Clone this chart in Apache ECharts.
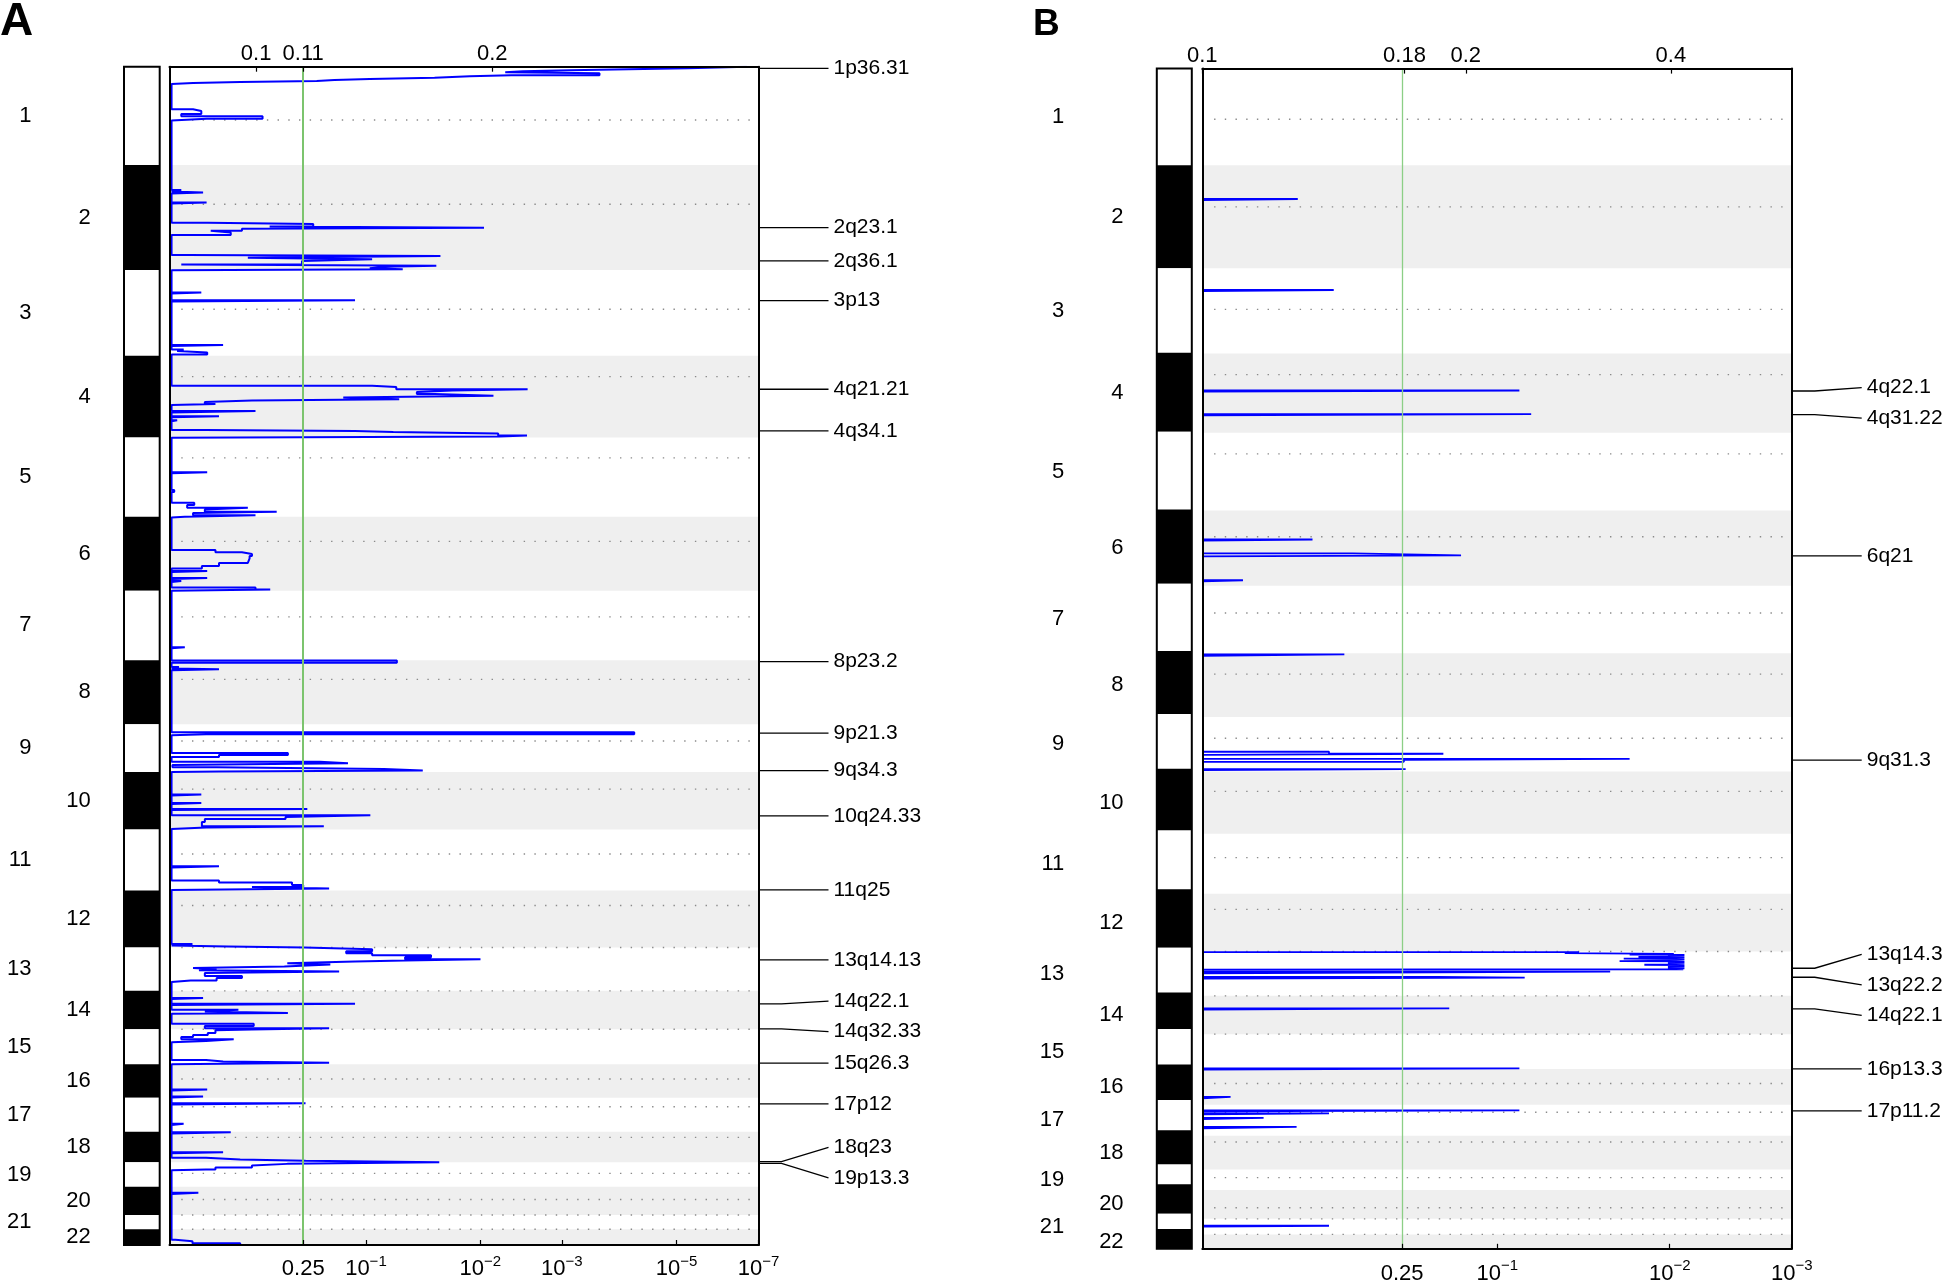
<!DOCTYPE html>
<html><head><meta charset="utf-8">
<script src="https://cdn.jsdelivr.net/npm/echarts@6/dist/echarts.min.js"></script>
<style>html,body{margin:0;padding:0;background:#fff}#c{width:1946px;height:1285px}</style>
</head><body><div id="c"></div>
<script>
// ---------------- data ----------------
const CHROMS = ['1','2','3','4','5','6','7','8','9','10','11','12','13','14','15','16','17','18','19','20','21','22'];
// panel A chromosome lengths (Mb, as drawn) and centromere offsets (Mb from chromosome start)
const LEN_A = [241,257,210,200,194.5,181,170,157,117,141,149,140,106,94,86,82,83,75,60,69,35,38.5];
const CEN_A = [130.6,96,96,51,50,60,64,47,41,42,60,37,0,0,0,36,22,14,27,31,0,0];
// panel B: plot lengths, ideogram lengths, centromeres
const LEN_B = [236.5,251.6,208.6,193.7,190.5,183.6,165.1,155.8,133.8,151.9,147,140.9,108.6,93.7,85.3,87.5,75.6,82.4,50.4,70.4,38.1,35.2];
const LEN_B_IDEO = [236.5,251.6,206.6,193.4,189.8,181.7,164.8,153.8,134.0,150.9,143.8,142.8,109.6,89.5,86.6,86.6,74.3,83.6,48.2,72.4,37.2,48.4];
const CEN_B = [123.7,101.7,100.7,51.8,51.8,63.8,67,51.1,52.3,48.4,58.4,38.1,0,0,0,35.2,18.1,15.2,20.1,43.3,0,0];

// score profile, panel A: [genome position (Mb), score (axis units 0-100)] step points
const A_STEPS = [
[0,98],[4.0,88],[6.4,78],[8.9,68],[11.3,60],[13.8,57],[16.2,73],[21.1,58],[23.6,51],[26.9,45],[30.1,34],[32.6,28],[35.0,25],[37.5,12],[39.9,4],[42.4,0],
[104.3,4],[108.5,5.4],[115.8,2],[121.2,15.8],[127.3,6.3],[131.8,0],
[302.0,2],[305.6,0],[308.1,5.7],[310.5,0],[332.6,6.3],[335.0,0],
[382.0,6.5],[385.2,24.4],[391.4,17],[394.3,53.4],[396.7,12.3],[401.6,7],[406.0,10.4],[412.2,0],
[461.1,3],[463.6,46],[467.8,13.3],[471.7,34.4],[475.8,22.5],[484.4,2],[487.4,45.3],[489.8,36.6],[493.7,34],[496.2,39.6],[498.4,0],
[553.0,5.4],[555.4,0],[572.1,31.5],[575.0,0],[681.6,9.1],[684.0,0],[692.6,2.4],[696.3,1.3],[699.9,6.4],[704.8,0],
[781.2,34.4],[784.4,38.5],[790.0,60.8],[793.0,48],[796.7,42],[801.6,45],[805.7,55],[810.1,29.5],[814.5,39],[817.5,14],[821.1,6],[826.0,7.8],[828.5,0],
[843.2,14.6],[846.9,0],[856.2,8.4],[858.6,0],[866.0,1.3],[868.4,0],
[889.7,6],[892.2,31.5],[894.6,38],[898.3,55.8],[903.2,60.7],[905.6,56],[908.6,0],
[993.3,6.4],[995.8,0],[1036.7,0.8],[1041.6,0],[1067.8,4.2],[1073.4,3],[1080.0,13.3],[1084.4,6],[1089.8,18.2],[1093.0,4],[1098.6,14.6],[1102.1,2.6],[1104.0,0],
[1183.6,7.8],[1189.2,12.3],[1193.4,14],[1198.3,13.6],[1204.4,13.3],[1215.4,8.4],[1222.8,5.5],[1228.9,0],[1235.0,6.4],[1237.5,0],[1252.2,6.4],[1254.6,0],[1259.5,2],[1262.0,0],[1275.4,14.6],[1280.3,17.1],[1283.3,0],
[1421.9,2.6],[1424.3,0],
[1454.2,38.6],[1459.6,0],[1470.1,1.6],[1473.8,0],[1475.8,8.4],[1478.2,0],
[1630.1,78.9],[1635.0,6.2],[1637.4,0],[1680.7,20.1],[1685.6,8.4],[1690.5,0],[1702.1,25.5],[1706.0,30.3],[1710.1,0.5],[1715.8,8],[1719.9,36.4],[1724.1,43],[1726.1,8.4],[1727.3,0],
[1782.9,5.4],[1785.3,0],[1803.2,5.4],[1805.6,0],[1817.9,23.4],[1820.3,0],[1833.3,34.1],[1837.5,19.7],[1842.4,6],[1849.7,5.5],[1860.3,26.2],[1863.2,6.2],[1866.9,0],
[1958.2,8.4],[1961.2,0],[1993.5,8.4],[1998.4,20.8],[2004.0,22.7],[2008.9,14],[2013.1,27.1],[2016.3,0],
[2148.5,3.9],[2152.2,0],[2154.6,10],[2157.6,22.9],[2161.5,34.4],[2166.4,30],[2171.3,34.4],[2176.2,44.4],[2181.1,40],[2186.0,52.8],[2189.4,40],[2191.9,31.5],[2195.8,20],[2199.2,27.3],[2203.6,19.5],[2207.3,4],[2210.5,8],[2212.9,5],[2216.3,28.8],[2219.5,6],[2226.9,12.3],[2231.8,8],[2237.9,3.6],[2241.6,0],
[2280.8,5.7],[2283.2,0],[2295.4,31.5],[2297.9,0],[2310.1,11.7],[2313.8,6],[2317.5,20.1],[2319.9,0],[2344.4,14.3],[2349.3,6],[2355.4,27.1],[2357.9,14],
[2360.3,7.8],[2366.5,6.5],[2371.4,4],[2376.3,2],[2381.9,10.9],[2386.1,6.2],[2389.7,0],[2432.6,6.2],[2436.3,9.1],[2439.9,27.1],[2443.1,0],
[2505.3,6.4],[2507.8,0],[2522.5,5.7],[2524.9,0],
[2539.1,23.1],[2541.6,0],[2589.3,2.4],[2591.8,0],
[2609.7,10.4],[2612.6,0],[2658.6,9.1],[2661.1,0],[2672.6,6.2],[2676.3,12],[2679.9,23.1],[2683.6,45.8],[2687.3,20],[2691.0,14],[2695.9,7.8],[2700.8,6.2],[2703.2,0],
[2758.3,4.9],[2760.8,0],
[2873.4,1],[2877.1,3.9],[2882.0,12]
];
// score profile, panel B
const B_STEPS = [
[318.9,16.2],[321.8,0],[541.4,22.3],[544.3,0],[787.2,53.8],[789.9,0],[845.1,55.8],[847.8,0],
[1151.6,18.7],[1154.0,0],[1185.5,25.5],[1190.2,43.9],[1193.1,0],[1251.3,6.9],[1254.2,0],
[1432.5,24.1],[1436.4,0],
[1670.7,21.5],[1675.6,40.9],[1678.5,0],[1688.3,72.5],[1690.2,34.2],[1695.2,0],[1713.2,34.5],[1715.7,0],
[2160.8,63.9],[2163.0,61.5],[2165.2,80],[2166.5,72.5],[2167.5,81.8],[2168.5,79],[2169.5,81.8],[2170.5,79],[2171.5,81.8],[2172.5,74],[2173.5,81.8],[2174.5,79],[2175.5,81.8],[2176.5,71.5],[2177.5,81.8],[2178.5,79],[2179.5,81.8],[2180.5,79],[2181.5,81.8],[2182.5,70.8],[2183.5,81.8],[2184.5,79],[2185.5,81.8],[2186.5,79],[2187.5,81.8],[2188.5,79],[2189.5,81.8],[2190.5,79],[2191.5,75],[2192.5,81.8],[2193.5,79],[2194.5,81.8],[2195.5,79],[2196.5,81.8],[2197.5,79],[2198.5,81.8],[2199.5,79],[2200.5,81.8],[2201.5,79],[2202.5,81.6],[2203.6,0],
[2208.3,69.2],[2212.4,0],
[2221.2,39.6],[2222.9,54.7],[2225.3,0],
[2298.4,41.9],[2301.1,0],[2445.2,53.8],[2447.8,0],[2514.9,4.8],[2518.3,0],
[2547.9,53.8],[2549.8,0],[2555.2,21.5],[2557.7,0],[2566.2,10.4],[2569.1,0],[2588.2,16],[2591.4,0],
[2829.8,21.5],[2832.2,0]
];

// peak labels
const A_PEAKS = ['1p36.31','2q23.1','2q36.1','3p13','4q21.21','4q34.1','8p23.2','9p21.3','9q34.3','10q24.33','11q25','13q14.13','14q22.1','14q32.33','15q26.3','17p12','18q23','19p13.3'];
const A_PEAK_POS = [3.9,394.3,475.8,573.1,790.0,892.2,1457.2,1632.5,1724.1,1835.0,2016.2,2187.6,2295.4,2356.6,2440.6,2540.4,2682,2686];
const B_PEAKS = ['4q22.1','4q31.22','6q21','9q31.3','13q14.3','13q22.2','14q22.1','16p13.3','17p11.2'];
const B_PEAK_POS = [788.4,846.4,1191.6,1691.0,2200.1,2222.1,2299.6,2446.4,2549.1];

// axis ticks (G-score on top, q-value at bottom)
const A_TOP_LABELS = ['0.1','0.11','0.2'];
const A_TOP_POS = [14.7,22.7,54.8];
const A_BOT_LABELS = ['0.25','10^-1','10^-2','10^-3','10^-5','10^-7'];
const A_BOT_POS = [22.7,33.35,52.77,66.6,86.1,100];
const A_THRESHOLD = 22.7;
const B_TOP_LABELS = ['0.1','0.18','0.2','0.4'];
const B_TOP_POS = [0,34.3,44.7,79.5];
const B_BOT_LABELS = ['0.25','10^-1','10^-2','10^-3'];
const B_BOT_POS = [33.9,50.05,79.3,100];
const B_THRESHOLD = 33.9;

// ---------------- helpers ----------------
const FONT = '"Liberation Sans", Arial, Helvetica, sans-serif';
function cum(l){const s=[0];l.forEach(v=>s.push(s[s.length-1]+v));return s;}
const CUM_A = cum(LEN_A), CUM_B = cum(LEN_B), CUM_BI = cum(LEN_B_IDEO);
const TOT_A = CUM_A[22], TOT_B = CUM_B[22], TOT_BI = CUM_BI[22];

function buildContinuous(pts,total,base){
  const out=[];
  for(let i=0;i<pts.length;i++){
    const u=Math.max(pts[i][1],base), g0=pts[i][0], g1=i+1<pts.length?pts[i+1][0]:total;
    out.push([u,g0],[u,g1]);
  }
  return out;
}
function buildSpikes(pts){
  const out=[];
  for(let i=0;i<pts.length;i++){
    const g=pts[i][0], u=pts[i][1];
    if(u<=0) continue;
    if(i===0||pts[i-1][1]<=0) out.push([0,g]);
    const g1=pts[i+1][0];
    out.push([u,g],[u,g1]);
    if(pts[i+1][1]<=0){out.push([0,g1]); out.push(['-','-']);}
  }
  return out;
}
function nearest(arr,v){let b=0;for(let i=1;i<arr.length;i++) if(Math.abs(arr[i]-v)<Math.abs(arr[b]-v)) b=i;return b;}
function qFmt(lbls,pos){
  return v=>{const s=lbls[nearest(pos,v)]; if(s.indexOf('^')>=0){const p=s.split('^');return '{b|'+p[0]+'}{s|'+p[1].replace('-','\u2212')+'}';} return '{b|'+s+'}';};
}
const RICH = {b:{fontSize:22,fontFamily:FONT,color:'#000',lineHeight:30},s:{fontSize:15,fontFamily:FONT,color:'#000',lineHeight:14,verticalAlign:'top'}};

function shadeData(cumArr){const d=[];for(let i=1;i<22;i+=2)d.push([cumArr[i],cumArr[i+1]]);return d;}
function cenData(cumArr,cen){return cen.map((c,i)=>[cumArr[i]+c]);}
function labelData(cumArr){return CHROMS.map((c,i)=>[(cumArr[i]+cumArr[i+1])/2,i]);}
function ideoData(cumArr){return CHROMS.map((c,i)=>[cumArr[i],cumArr[i+1],i]);}

const AX_HIDE = {show:false};
function plotAxes(gi, topL, topP, botL, botP, total, botMargin){
  return {
    x:[
      {type:'value',gridIndex:gi,min:0,max:100,position:'bottom',z:10,
        axisLine:{show:true,onZero:false,lineStyle:{color:'#000',width:2}},
        axisTick:{show:true,inside:true,length:5,customValues:botP,lineStyle:{color:'#000',width:1.2}},
        axisLabel:{show:true,customValues:botP,margin:botMargin,formatter:qFmt(botL,botP),rich:RICH,hideOverlap:false},
        splitLine:{show:false}},
      {type:'value',gridIndex:gi,min:0,max:100,position:'top',z:10,
        axisLine:{show:true,onZero:false,lineStyle:{color:'#000',width:2}},
        axisTick:{show:true,inside:true,length:5,customValues:topP,lineStyle:{color:'#000',width:1.2}},
        axisLabel:{show:true,customValues:topP,margin:2,color:'#000',fontSize:22,fontFamily:FONT,hideOverlap:false,formatter:v=>topL[nearest(topP,v)]},
        splitLine:{show:false}}
    ],
    y:[
      {type:'value',gridIndex:gi,min:0,max:total,inverse:true,position:'left',z:10,
        axisLine:{show:true,onZero:false,lineStyle:{color:'#000',width:2}},axisTick:AX_HIDE,axisLabel:AX_HIDE,splitLine:AX_HIDE},
      {type:'value',gridIndex:gi,min:0,max:total,inverse:true,position:'right',z:10,
        axisLine:{show:true,onZero:false,lineStyle:{color:'#000',width:2}},axisTick:AX_HIDE,axisLabel:AX_HIDE,splitLine:AX_HIDE}
    ]
  };
}
function ideoAxes(gi,total){
  return {x:{type:'value',gridIndex:gi,min:0,max:1,show:false},
          y:{type:'value',gridIndex:gi,min:0,max:total,inverse:true,show:false}};
}

const pA = plotAxes(1,A_TOP_LABELS,A_TOP_POS,A_BOT_LABELS,A_BOT_POS,TOT_A,9);
const pB = plotAxes(3,B_TOP_LABELS,B_TOP_POS,B_BOT_LABELS,B_BOT_POS,TOT_B,10);
const iA = ideoAxes(0,TOT_A), iB = ideoAxes(2,TOT_BI);

function shadeSeries(xi,yi,data){
  return {type:'custom',xAxisIndex:xi,yAxisIndex:yi,z:1,silent:true,data:data,
    renderItem:(p,api)=>{const a=api.coord([0,api.value(0)]),b=api.coord([100,api.value(1)]);
      return {type:'rect',shape:{x:a[0],y:a[1],width:b[0]-a[0],height:b[1]-a[1]},style:{fill:'#efefef'}};}};
}
function cenSeries(xi,yi,data){
  return {type:'custom',xAxisIndex:xi,yAxisIndex:yi,z:2,silent:true,data:data,
    renderItem:(p,api)=>{const a=api.coord([2,api.value(0)]),b=api.coord([98.6,api.value(0)]);
      return {type:'line',shape:{x1:a[0],y1:a[1],x2:b[0],y2:a[1]},style:{stroke:'#8a8a8a',lineWidth:1.4,lineDash:[1.4,9.3]}};}};
}
function chromLabelSeries(xi,yi,data){
  return {type:'custom',xAxisIndex:xi,yAxisIndex:yi,z:5,silent:true,clip:false,data:data,
    renderItem:(p,api)=>{const a=api.coord([0,api.value(0)]);const i=api.value(1);
      return {type:'text',x:a[0]+(i%2===0?-138:-78.7),y:a[1],style:{text:CHROMS[i],font:'22px '+FONT,fill:'#000',align:'right',verticalAlign:'middle'}};}};
}
function ideoSeries(xi,yi,data,total){
  return [{type:'custom',xAxisIndex:xi,yAxisIndex:yi,z:2,silent:true,data:data,
    renderItem:(p,api)=>{const a=api.coord([0,api.value(0)]),b=api.coord([1,api.value(1)]);const i=api.value(2);
      return {type:'rect',shape:{x:a[0],y:a[1],width:b[0]-a[0],height:b[1]-a[1]},style:{fill:i%2===1?'#000':'#fff'}};}},
    {type:'custom',xAxisIndex:xi,yAxisIndex:yi,z:3,silent:true,data:[[0,total]],
    renderItem:(p,api)=>{const a=api.coord([0,api.value(0)]),b=api.coord([1,api.value(1)]);
      return {type:'rect',shape:{x:a[0],y:a[1],width:b[0]-a[0],height:b[1]-a[1]},style:{fill:null,stroke:'#000',lineWidth:2}};}}];
}
function profileSeries(xi,yi,data,thr,green,gw,lw){
  return {type:'line',xAxisIndex:xi,yAxisIndex:yi,z:4,data:data,showSymbol:false,symbol:'none',connectNulls:false,
    lineStyle:{color:'#0000ff',width:lw},silent:true,animation:false,
    markLine:{silent:true,symbol:'none',label:{show:false},lineStyle:{color:green,width:gw,type:'solid'},data:[{xAxis:thr}]}};
}

const option = {
  animation:false,
  backgroundColor:'#fff',
  grid:[
    {left:124,top:66.7,width:35.7,height:1178.3,outerBoundsMode:'none',containLabel:false},
    {left:169.5,top:66.7,width:589,height:1178.3,outerBoundsMode:'none',containLabel:false},
    {left:1156.8,top:68.6,width:35,height:1180.2,outerBoundsMode:'none',containLabel:false},
    {left:1202.3,top:68.6,width:589.4,height:1180.2,outerBoundsMode:'none',containLabel:false}
  ],
  xAxis:[iA.x,pA.x[0],pA.x[1],iB.x,pB.x[0],pB.x[1]],
  yAxis:[iA.y,pA.y[0],pA.y[1],iB.y,pB.y[0],pB.y[1]],
  series:[
    ...ideoSeries(0,0,ideoData(CUM_A),TOT_A),
    shadeSeries(1,1,shadeData(CUM_A)),
    cenSeries(1,1,cenData(CUM_A,CEN_A)),
    chromLabelSeries(1,1,labelData(CUM_A)),
    profileSeries(1,1,buildContinuous(A_STEPS,TOT_A,0.35),A_THRESHOLD,'#7cc46e',2,2),
    ...ideoSeries(3,3,ideoData(CUM_BI),TOT_BI),
    shadeSeries(4,4,shadeData(CUM_B)),
    cenSeries(4,4,cenData(CUM_B,CEN_B)),
    chromLabelSeries(4,4,labelData(CUM_B)),
    profileSeries(4,4,buildSpikes(B_STEPS),B_THRESHOLD,'#8ccf86',1.3,1.8)
  ]
};

const chart = echarts.init(document.getElementById('c'));
chart.setOption(option);

function spread(ys,gap){
  let groups=ys.map((y,i)=>({ids:[i]}));
  const center=g=>g.ids.reduce((s,k)=>s+ys[k],0)/g.ids.length;
  let merged=true;
  while(merged){merged=false;
    for(let i=0;i<groups.length-1;i++){
      const a=groups[i],b=groups[i+1];
      const aEnd=center(a)+(a.ids.length-1)*gap/2, bStart=center(b)-(b.ids.length-1)*gap/2;
      if(bStart-aEnd<gap){groups.splice(i,2,{ids:a.ids.concat(b.ids)});merged=true;break;}
    }
  }
  const out=[];
  groups.forEach(g=>{const c=center(g),n=g.ids.length;g.ids.forEach((k,j)=>{out[k]=c+(j-(n-1)/2)*gap;});});
  return out;
}
const gfx=[];
gfx.push({type:'text',x:0,y:22,z:50,style:{text:'A',font:'bold 46px '+FONT,fill:'#000',verticalAlign:'middle'}});
gfx.push({type:'text',x:1033,y:25,z:50,style:{text:'B',font:'bold 37px '+FONT,fill:'#000',verticalAlign:'middle'}});
function peakLabels(xi,yi,names,pos){
  const pts=pos.map(g=>chart.convertToPixel({xAxisIndex:xi,yAxisIndex:yi},[100,g]));
  const ly=spread(pts.map(p=>p[1]),30.5);
  names.forEach((n,i)=>{
    const x0=pts[i][0],y0=pts[i][1];
    gfx.push({type:'polyline',z:50,shape:{points:[[x0,y0],[x0+23,y0],[x0+70,ly[i]]]},style:{stroke:'#000',lineWidth:1.3,fill:null}});
    gfx.push({type:'text',z:50,x:x0+75,y:ly[i],style:{text:n,font:'21px '+FONT,fill:'#000',verticalAlign:'middle'}});
  });
}
peakLabels(1,1,A_PEAKS,A_PEAK_POS);
peakLabels(4,4,B_PEAKS,B_PEAK_POS);
chart.setOption({graphic:{elements:gfx}});
</script></body></html>
